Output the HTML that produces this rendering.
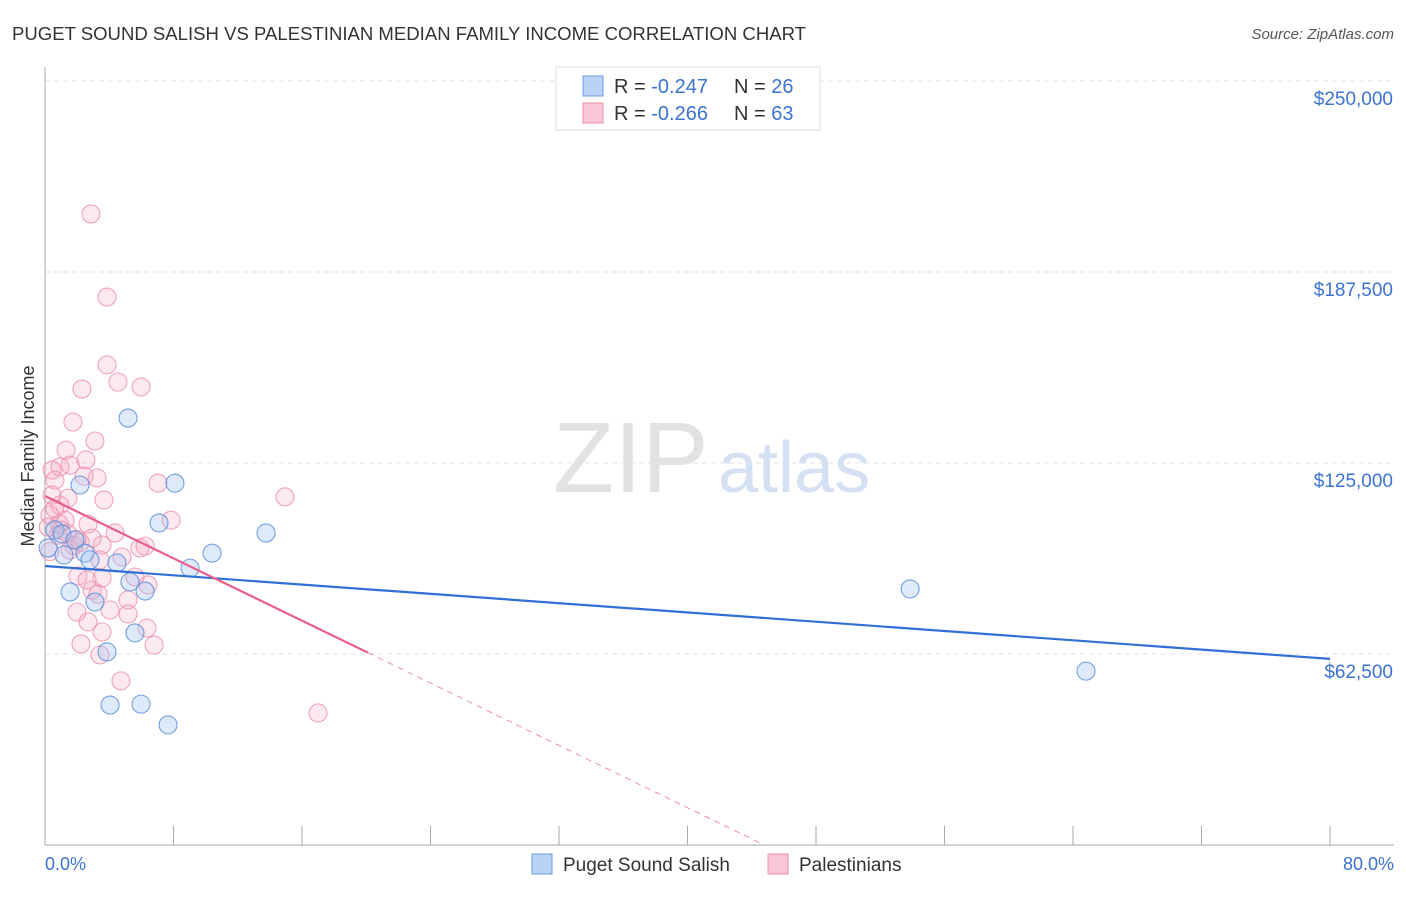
<!DOCTYPE html>
<html><head><meta charset="utf-8"><style>
body{margin:0;background:#fff;font-family:"Liberation Sans",sans-serif}
svg text{font-family:"Liberation Sans",sans-serif}
</style></head><body>
<svg id="chart" width="1406" height="892" viewBox="0 0 1406 892">
<text x="12" y="40" font-size="18" fill="#333" textLength="794" lengthAdjust="spacingAndGlyphs">PUGET SOUND SALISH VS PALESTINIAN MEDIAN FAMILY INCOME CORRELATION CHART</text>
<text x="1394" y="39" font-size="15" fill="#555" font-style="italic" text-anchor="end">Source: ZipAtlas.com</text>
<g id="grid"></g>
<g id="axes"></g>
<text x="553" y="492" font-size="100" fill="#e2e2e2" font-family="Liberation Serif">ZIP</text>
<text x="718" y="492" font-size="72" fill="#d3e1f3">atlas</text>
<g id="pts"></g>
<g id="lines"></g>
<text transform="translate(34,456) rotate(-90)" font-size="18" fill="#333" text-anchor="middle">Median Family Income</text>
<text x="45" y="870" font-size="18" fill="#3b73d1">0.0%</text>
<text x="1394" y="870" font-size="18" fill="#3b73d1" text-anchor="end">80.0%</text>
<g>
<rect x="556" y="67" width="264" height="63" fill="#fff" stroke="#ddd"/>
<rect x="583" y="76" width="20" height="20" fill="#b9d2f5" stroke="#6a9be0"/>
<rect x="583" y="103" width="20" height="20" fill="#f9c6d5" stroke="#ec8fab"/>
<text x="614" y="93" font-size="20" fill="#333">R = <tspan fill="#3b73d1">-0.247</tspan><tspan x="734">N = </tspan><tspan fill="#3b73d1">26</tspan></text>
<text x="614" y="120" font-size="20" fill="#333">R = <tspan fill="#3b73d1">-0.266</tspan><tspan x="734">N = </tspan><tspan fill="#3b73d1">63</tspan></text>
</g>
<g>
<rect x="532" y="854" width="20" height="20" fill="#b9d2f5" stroke="#6a9be0"/>
<text x="563" y="871" font-size="19" fill="#333">Puget Sound Salish</text>
<rect x="768" y="854" width="20" height="20" fill="#f9c6d5" stroke="#ec8fab"/>
<text x="799" y="871" font-size="19" fill="#333">Palestinians</text>
</g>
</svg>
<script>
const yTicks=[62500,125000,187500,250000];
const yTickLabels=["$62,500","$125,000","$187,500","$250,000"];
const xTicks=[0,8,16,24,32,40,48,56,64,72,80];
const blueX=[0.19,0.62,1.06,1.18,1.56,1.87,2.18,2.49,2.80,3.11,3.86,4.05,4.48,5.17,5.29,5.60,5.98,6.23,7.10,7.66,8.09,9.03,10.40,13.76,53.86,64.81];
const blueY=[97.2,103.1,101.8,94.9,82.8,99.8,117.8,95.5,93.3,79.5,63.2,45.8,92.3,139.7,86.1,69.4,46.1,83.1,105.4,39.3,118.4,90.6,95.5,102.1,83.8,56.9];
const pinkX=[2.86,3.86,3.86,4.54,5.98,2.30,1.74,3.11,1.31,2.55,0.44,0.93,1.56,3.24,2.43,0.62,3.67,1.43,7.04,14.94,7.85,0.44,0.93,2.68,1.25,0.31,4.36,3.55,2.93,1.56,0.81,5.91,6.23,4.79,3.42,2.05,3.55,2.62,5.60,2.93,3.30,6.41,5.17,4.05,1.99,5.17,2.68,3.55,6.35,2.24,3.42,6.79,4.73,17.0,0.2,1.0,2.0,0.6,1.8,0.3,1.4,2.2,0.9];
const pinkY=[206.5,179.3,157.1,151.5,149.9,149.2,138.4,132.2,129.2,126,122.7,123.7,124.3,120.1,120.7,119.4,112.9,113.5,118.4,113.9,106.3,114.5,111.2,105,106.3,108,102.1,98.2,100.4,96.5,101.4,97.2,97.8,94.2,93.3,88,87.4,86.7,87.7,83.4,82.1,85.1,80.2,76.9,76.2,75.6,73,69.7,71,65.8,62.2,65.4,53.7,43.2,104,103,100,110,98,96,102,99,105];
const blueTrend=[91.3,60.9];
const pinkTrend=[114.2,-2.55];
const NS="http://www.w3.org/2000/svg";
const X=v=>45+v/80*1285, Y=v=>845-v/62.5*191;
function mk(tag,attrs,parent){const e=document.createElementNS(NS,tag);for(const k in attrs)e.setAttribute(k,attrs[k]);parent.appendChild(e);return e;}
const grid=document.getElementById('grid'),axes=document.getElementById('axes'),pts=document.getElementById('pts'),lines=document.getElementById('lines');
yTicks.forEach((t,i)=>{const y=Y(t/1000);
const l=mk('line',{x1:45,x2:1394,y1:y,y2:y,stroke:'#e2e2e2','stroke-dasharray':'5,4'},grid);


const tx=mk('text',{x:1393,y:y+24,'font-size':19,fill:'#3b73d1','text-anchor':'end'},axes);tx.textContent=yTickLabels[i];

});
const ax=mk('line',{x1:45,x2:45,y1:67,y2:845,stroke:'#aaa'},axes);


const bx=mk('line',{x1:45,x2:1394,y1:845,y2:845,stroke:'#aaa'},axes);


xTicks.forEach(t=>{const x=X(t);const l=mk('line',{x1:x,x2:x,y1:826,y2:845,stroke:'#aaa'},axes);

});
pinkX.forEach((v,i)=>{const c=mk('circle',{cx:X(v),cy:Y(pinkY[i]),r:9,fill:'rgba(245,165,190,0.25)',stroke:'rgba(236,143,171,0.8)','stroke-width':1.1},pts);

});
blueX.forEach((v,i)=>{const c=mk('circle',{cx:X(v),cy:Y(blueY[i]),r:9,fill:'rgba(160,195,240,0.35)',stroke:'rgba(91,143,220,0.85)','stroke-width':1.1},pts);

});
const bl=mk('line',{x1:X(0),y1:Y(blueTrend[0]),x2:X(80),y2:Y(blueTrend[1]),stroke:'#2f6fd6','stroke-width':2.2},lines);


const pEnd=20.1, pZero=-pinkTrend[0]/pinkTrend[1];
const pl=mk('line',{x1:X(0),y1:Y(pinkTrend[0]),x2:X(pEnd),y2:Y(pinkTrend[0]+pinkTrend[1]*pEnd),stroke:'#e8608a','stroke-width':2.2},lines);


const pd=mk('line',{x1:X(pEnd),y1:Y(pinkTrend[0]+pinkTrend[1]*pEnd),x2:X(pZero),y2:Y(0),stroke:'#ec8fab','stroke-width':1,'stroke-dasharray':'6,5'},lines);


</script>
</body></html>
